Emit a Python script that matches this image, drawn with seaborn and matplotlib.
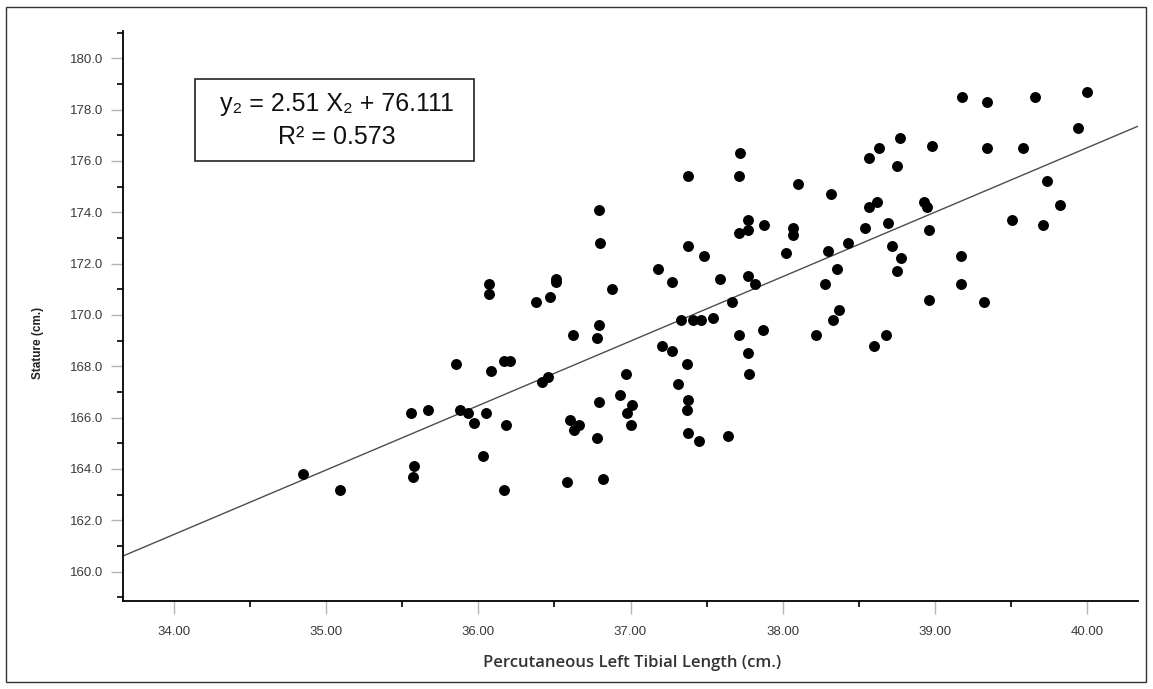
import matplotlib
matplotlib.use("Agg")
import matplotlib.pyplot as plt
from matplotlib.patches import Rectangle
from matplotlib.ticker import FixedLocator
import seaborn as sns

# Percutaneous left tibial length (cm) vs stature (cm)
tibia = [34.85, 35.09, 35.56, 35.67, 35.58, 35.57, 35.85, 36.08, 36.07, 36.07,
         36.17, 36.21, 36.38, 36.47, 36.42, 36.46, 35.88, 35.93, 35.97, 36.05,
         36.18, 36.03, 36.17, 36.51, 36.51, 36.88, 36.62, 36.79, 36.78, 36.97,
         36.93, 36.79, 37.01, 36.98, 37.00, 36.60, 36.66, 36.63, 36.78, 36.58,
         36.82, 37.21, 37.27, 37.37, 37.31, 37.38, 37.37, 37.38, 37.45, 37.64,
         37.33, 37.41, 37.46, 37.54, 37.67, 37.71, 37.87, 37.77, 37.78, 38.22,
         38.96, 39.32, 38.37, 38.33, 38.68, 38.60, 37.72, 37.71, 37.38, 38.10,
         36.79, 36.80, 37.38, 37.48, 37.77, 37.71, 37.77, 37.88, 38.07, 38.07,
         38.02, 37.18, 37.27, 37.59, 37.77, 37.82, 39.18, 39.34, 39.66, 40.00,
         39.94, 38.77, 38.63, 38.57, 38.75, 38.98, 39.34, 39.58, 39.74, 39.82,
         39.51, 39.71, 38.32, 38.57, 38.62, 38.93, 38.95, 38.54, 38.69, 38.96,
         38.43, 38.30, 38.72, 38.78, 38.36, 38.75, 39.17, 38.28, 39.17]
stature = [163.8, 163.2, 166.2, 166.3, 164.1, 163.7, 168.1, 167.8, 170.8, 171.2,
           168.2, 168.2, 170.5, 170.7, 167.4, 167.6, 166.3, 166.2, 165.8, 166.2,
           165.7, 164.5, 163.2, 171.4, 171.3, 171.0, 169.2, 169.6, 169.1, 167.7,
           166.9, 166.6, 166.5, 166.2, 165.7, 165.9, 165.7, 165.5, 165.2, 163.5,
           163.6, 168.8, 168.6, 168.1, 167.3, 166.7, 166.3, 165.4, 165.1, 165.3,
           169.8, 169.8, 169.8, 169.9, 170.5, 169.2, 169.4, 168.5, 167.7, 169.2,
           170.6, 170.5, 170.2, 169.8, 169.2, 168.8, 176.3, 175.4, 175.4, 175.1,
           174.1, 172.8, 172.7, 172.3, 173.7, 173.2, 173.3, 173.5, 173.4, 173.1,
           172.4, 171.8, 171.3, 171.4, 171.5, 171.2, 178.5, 178.3, 178.5, 178.7,
           177.3, 176.9, 176.5, 176.1, 175.8, 176.6, 176.5, 176.5, 175.2, 174.3,
           173.7, 173.5, 174.7, 174.2, 174.4, 174.4, 174.2, 173.4, 173.6, 173.3,
           172.8, 172.5, 172.7, 172.2, 171.8, 171.7, 172.3, 171.2, 171.2]

slope = 2.51
intercept = 76.111
r_squared = 0.573

x_ticks = [34.0, 35.0, 36.0, 37.0, 38.0, 39.0, 40.0]
x_minor = [34.5, 35.5, 36.5, 37.5, 38.5, 39.5]
y_ticks = [160.0, 162.0, 164.0, 166.0, 168.0, 170.0, 172.0, 174.0, 176.0, 178.0, 180.0]
y_minor = [159, 161, 163, 165, 167, 169, 171, 173, 175, 177, 179, 181]

sns.set_style("ticks")
plt.rcParams["font.family"] = ["Liberation Sans", "DejaVu Sans"]

fig = plt.figure(figsize=(11.53, 6.89), dpi=100)
ax = fig.add_axes([123 / 1153, 1 - 600.7 / 689, 1015 / 1153, 569.7 / 689])

sns.scatterplot(x=tibia, y=stature, color="black", s=62, linewidth=0, ax=ax, zorder=3)
ax.axline((0, intercept), slope=slope, color="#4d4d4d", lw=1.0, zorder=2)

ax.set_xlim(33.665, 40.335)
ax.set_ylim(158.87, 181.06)

sns.despine(ax=ax)
for side in ["left", "bottom"]:
    ax.spines[side].set_color("black")
    ax.spines[side].set_linewidth(1.3)

ax.set_xticks(x_ticks)
ax.set_xticklabels([f"{v:.2f}" for v in x_ticks])
ax.set_yticks(y_ticks)
ax.set_yticklabels([f"{v:.1f}" for v in y_ticks])
ax.xaxis.set_minor_locator(FixedLocator(x_minor))
ax.yaxis.set_minor_locator(FixedLocator(y_minor))
ax.tick_params(which="major", length=9, width=1, color="#b5b5b5",
               labelsize=9.5, labelcolor="#3a3a3a")
ax.tick_params(axis="x", which="major", pad=9)
ax.tick_params(axis="y", which="major", pad=5)
ax.tick_params(which="minor", length=4, width=1.2, color="black")

ax.set_xlabel("Percutaneous Left Tibial Length (cm.)", fontsize=12,
              family=["Open Sans", "DejaVu Sans"], fontweight="semibold", color="#333333")
ax.xaxis.set_label_coords(0.5015, -0.095)
ax.set_ylabel("Stature (cm.)", fontsize=8.5, fontweight="bold", color="#222222")
ax.yaxis.set_label_coords(-0.078, 0.452)

# equation box
fig.patches.append(Rectangle((195 / 1153, 1 - 161 / 689), 279 / 1153, 82 / 689,
                             transform=fig.transFigure, fill=False,
                             edgecolor="#222222", lw=1.2))
fig.text(337 / 1153, 1 - 104 / 689, f"y\u2082 = {slope} X\u2082 + {intercept}",
         ha="center", va="center", fontsize=18, color="#111111")
fig.text(337 / 1153, 1 - 137 / 689, f"R\u00b2 = {r_squared}",
         ha="center", va="center", fontsize=18, color="#111111")

# outer frame
fig.patches.append(Rectangle((6 / 1153, 1 - 682 / 689), 1140 / 1153, 675 / 689,
                             transform=fig.transFigure, fill=False,
                             edgecolor="#333333", lw=1.0))

fig.savefig("out.png", dpi=100)
